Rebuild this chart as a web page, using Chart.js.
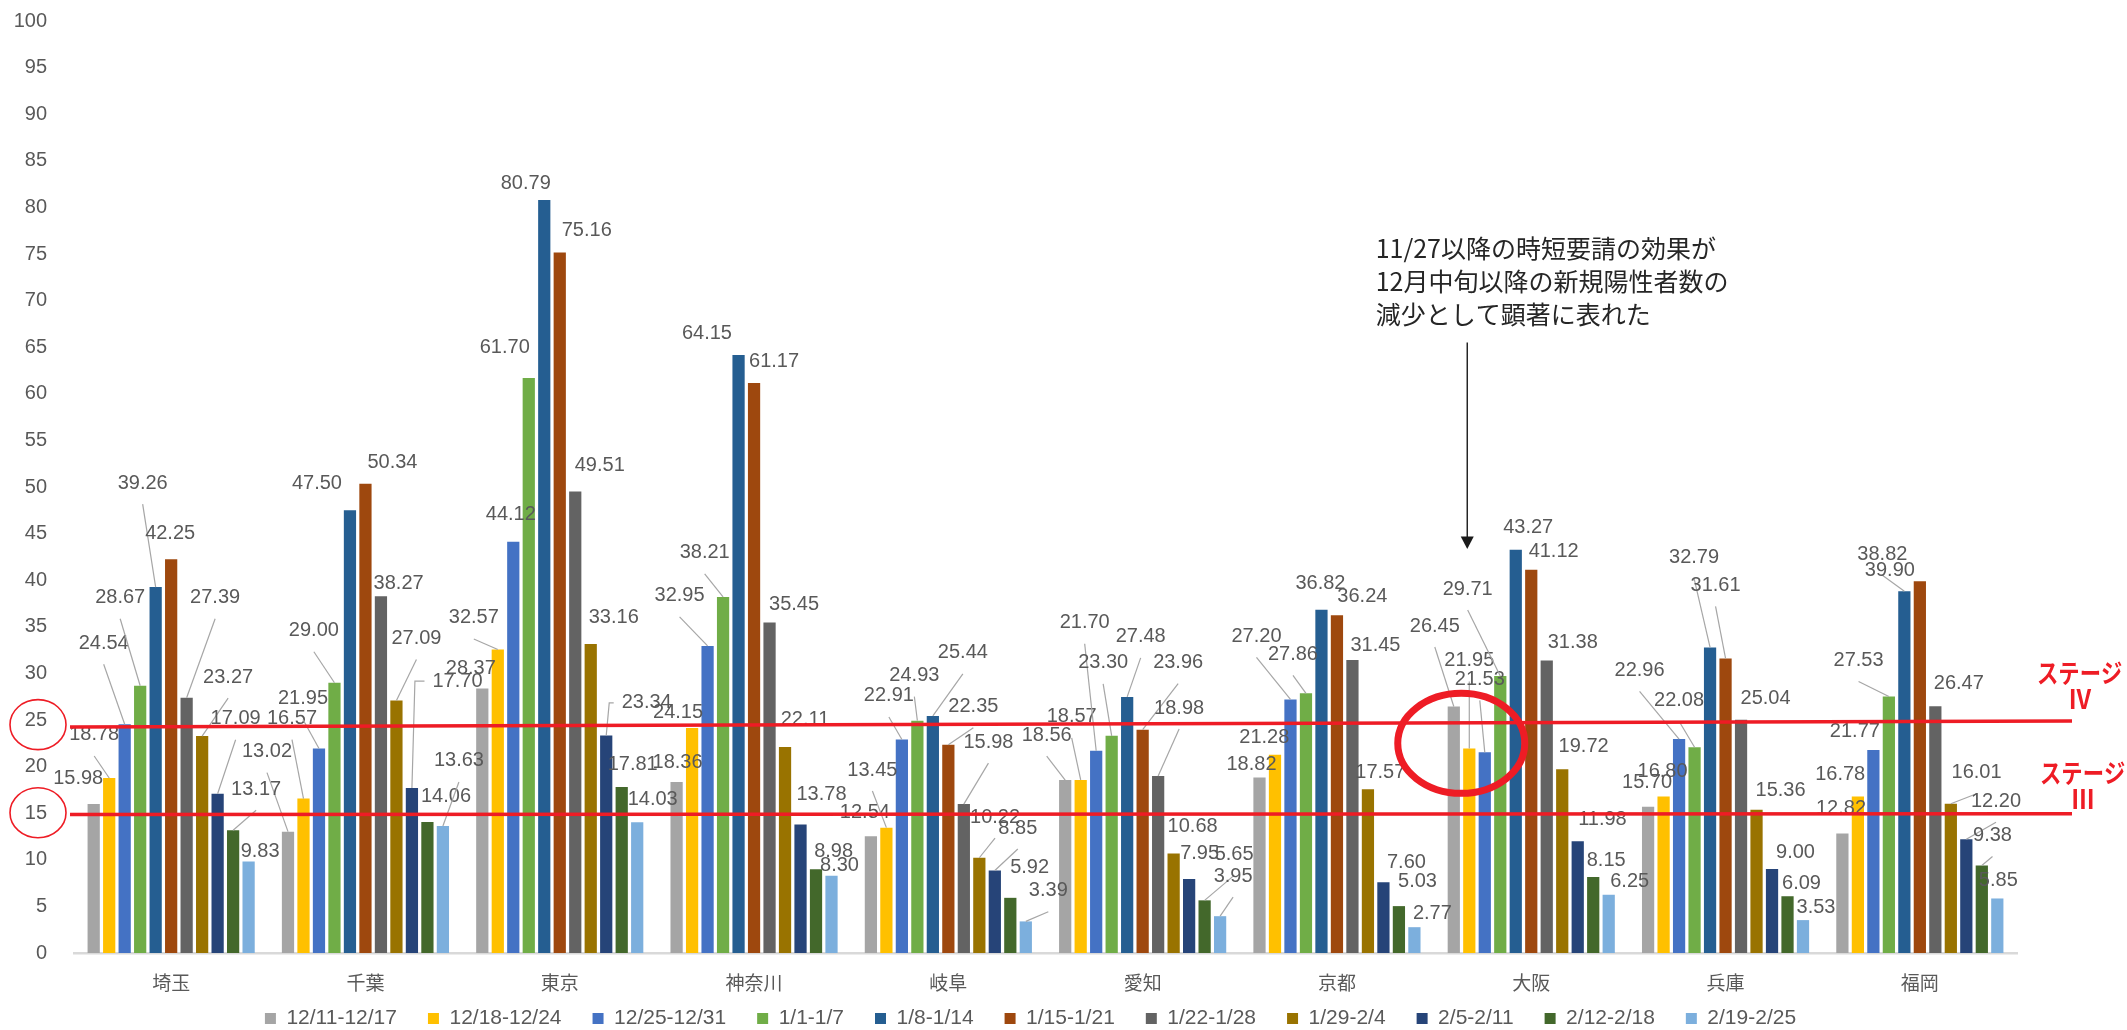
<!DOCTYPE html>
<html>
<head>
<meta charset="utf-8">
<script src="https://cdn.jsdelivr.net/npm/chart.js@4.4.1/dist/chart.umd.min.js"></script>
<style>
  html, body { margin: 0; padding: 0; background: #fff; }
  #wrap { width: 2127px; height: 1030px; }
</style>
</head>
<body>
<div id="wrap"><canvas id="chart" width="2127" height="1030"></canvas></div>
<script>
// 都道府県
const prefectures = ["埼玉", "千葉", "東京", "神奈川", "岐阜", "愛知", "京都", "大阪", "兵庫", "福岡"];

// 週ごとの系列名
const weeks = ["12/11-12/17", "12/18-12/24", "12/25-12/31", "1/1-1/7", "1/8-1/14", "1/15-1/21",
  "1/22-1/28", "1/29-2/4", "2/5-2/11", "2/12-2/18", "2/19-2/25"];

// 各週の値（都道府県順）
const w1211 = [15.98, 13.02, 28.37, 18.36, 12.54, 18.56, 18.82, 26.45, 15.70, 12.82];
const w1218 = [18.78, 16.57, 32.57, 24.15, 13.45, 18.57, 21.28, 21.95, 16.80, 16.78];
const w1225 = [24.54, 21.95, 44.12, 32.95, 22.91, 21.70, 27.20, 21.53, 22.96, 21.77];
const w0101 = [28.67, 29.00, 61.70, 38.21, 24.93, 23.30, 27.86, 29.71, 22.08, 27.53];
const w0108 = [39.26, 47.50, 80.79, 64.15, 25.44, 27.48, 36.82, 43.27, 32.79, 38.82];
const w0115 = [42.25, 50.34, 75.16, 61.17, 22.35, 23.96, 36.24, 41.12, 31.61, 39.90];
const w0122 = [27.39, 38.27, 49.51, 35.45, 15.98, 18.98, 31.45, 31.38, 25.04, 26.47];
const w0129 = [23.27, 27.09, 33.16, 22.11, 10.22, 10.68, 17.57, 19.72, 15.36, 16.01];
const w0205 = [17.09, 17.70, 23.34, 13.78, 8.85, 7.95, 7.60, 11.98, 9.00, 12.20];
const w0212 = [13.17, 14.06, 17.81, 8.98, 5.92, 5.65, 5.03, 8.15, 6.09, 9.38];
const w0219 = [9.83, 13.63, 14.03, 8.30, 3.39, 3.95, 2.77, 6.25, 3.53, 5.85];

// y軸の目盛
const yTicks = [0, 5, 10, 15, 20, 25, 30, 35, 40, 45, 50, 55, 60, 65, 70, 75, 80, 85, 90, 95, 100];

const seriesValues = [w1211, w1218, w1225, w0101, w0108, w0115, w0122, w0129, w0205, w0212, w0219];
const seriesColors = ["#A5A5A5", "#FFC000", "#4472C4", "#70AD47", "#255E91", "#9E480E",
  "#636363", "#997300", "#264478", "#43682B", "#7CAFDD"];

// データラベルの位置 [dx, dy, 引き出し線] 都道府県ごと・系列順
// 引き出し線: 0 なし, 1 直線, 2 折れ線
const labelPos = [
  [[-15.5,-26,0],[-15,-43,1],[-21,-81,1],[-20,-88,1],[-13,-104,1],[-1,-26,0],[28.5,-100,1],[26,-59,1],[18,-75,1],[23,-41,1],[11.5,-9.5,0]],
  [[-21,-80,1],[-11.5,-80,1],[-16,-50,1],[-20.6,-52,1],[-33,-27,0],[27,-21,0],[17.7,-13,0],[20,-62,1],[45.6,-107,2],[18.6,-25,0],[16,-65,1]],
  [[-11.5,-20,0],[-24,-31.5,1],[-2.5,-27,0],[-24,-30,0],[-18.5,-17,0],[27,-22.5,0],[24.5,-26.5,0],[23,-26,0],[40.5,-32.5,2],[11,-23,0],[15.5,-23,0]],
  [[1,-19,0],[-14,-15,0],[-28,-50,1],[-18.4,-44,1],[-31.6,-22,0],[20,-21,0],[24.5,-18.6,0],[20,-27,0],[21,-29.6,0],[17.6,-17.6,0],[8,-10,0]],
  [[-6,-24,0],[-14,-57.6,1],[-13,-43.5,1],[-3,-45,1],[30,-63,1],[25,-38,1],[24.6,-62,1],[15.7,-40.7,1],[23,-42.5,1],[19.3,-30,0],[22.5,-30.7,1]],
  [[-18.5,-45,1],[-9,-63,1],[-11.5,-128,1],[-8.5,-73,1],[13.5,-60,1],[35.5,-67,1],[21,-68,1],[19,-26.5,0],[10.5,-25,0],[29.5,-46,1],[13,-40,1]],
  [[-8,-13.6,0],[-10.7,-16.7,0],[-34,-63,1],[-13,-39,1],[-1,-26,0],[25.4,-18.6,0],[23,-14,0],[12.4,-16.5,0],[23,-19.5,0],[18.6,-25,0],[18,-14,0]],
  [[-19,-80.5,1],[0,-88,1],[-5,-73,1],[-32.6,-87,1],[12.4,-22,0],[22.4,-17.8,0],[26,-18.5,0],[21.4,-23,0],[24.7,-22,0],[13,-17,0],[21,-13.7,0]],
  [[-1,-24,0],[-1,-25,0],[-39.5,-68.6,1],[-15.5,-47,1],[-16,-90,1],[-10,-73,1],[24.5,-21,0],[24,-19,0],[23.5,-17,0],[14,-12.6,0],[13,-12.5,0]],
  [[-1.4,-25,0],[-17.7,-22,0],[-18.5,-19,0],[-30.3,-36,1],[-22,-37,1],[-30,-11,0],[23.5,-22.5,0],[25.7,-31,1],[29.7,-38,1],[10.7,-30,1],[1,-17.5,0]]
];

const note = ["11/27以降の時短要請の効果が", "12月中旬以降の新規陽性者数の", "減少として顕著に表れた"];
const RED = "#EE1C25";

function squeezed(ctx, text, x, y, sx) {
  ctx.save();
  ctx.translate(x, y);
  ctx.scale(sx, 1);
  ctx.fillText(text, 0, 0);
  ctx.restore();
}

function ellipse(ctx, cx, cy, rx, ry, w) {
  ctx.beginPath();
  ctx.ellipse(cx, cy, rx, ry, 0, 0, Math.PI * 2);
  ctx.lineWidth = w;
  ctx.strokeStyle = RED;
  ctx.stroke();
}

const overlay = {
  id: "overlay",
  afterDatasetsDraw(chart) {
    const { ctx, chartArea } = chart;
    const xs = chart.scales.x, ys = chart.scales.y;
    ctx.save();

    // データラベル
    ctx.font = "20px 'Liberation Sans', sans-serif";
    ctx.textAlign = "center";
    ctx.textBaseline = "middle";
    chart.data.datasets.forEach((ds, si) => {
      chart.getDatasetMeta(si).data.forEach((bar, ci) => {
        const p = labelPos[ci][si];
        const lx = bar.x + p[0], ly = bar.y + p[1];
        const text = ds.data[ci].toFixed(2);
        const hw = ctx.measureText(text).width / 2;
        ctx.strokeStyle = "#A6A6A6";
        ctx.lineWidth = 1.2;
        if (p[2] === 1) {
          ctx.beginPath();
          ctx.moveTo(lx, ly + 21);
          ctx.lineTo(bar.x, bar.y);
          ctx.stroke();
        } else if (p[2] === 2) {
          ctx.beginPath();
          ctx.moveTo(lx - hw - 8, ly);
          ctx.lineTo(bar.x + 3, ly);
          ctx.lineTo(bar.x, bar.y);
          ctx.stroke();
        }
        ctx.fillStyle = "#595959";
        ctx.fillText(text, lx, ly);
      });
    });

    // ステージの線
    ctx.strokeStyle = RED;
    ctx.lineWidth = 3.5;
    ctx.beginPath();
    ctx.moveTo(chartArea.left - 4, ys.getPixelForValue(24.25));
    ctx.lineTo(chartArea.right + 55, ys.getPixelForValue(24.9));
    ctx.stroke();
    ctx.beginPath();
    ctx.moveTo(chartArea.left - 4, ys.getPixelForValue(14.85));
    ctx.lineTo(chartArea.right + 55, ys.getPixelForValue(14.95));
    ctx.stroke();

    // 目盛の丸
    ellipse(ctx, chartArea.left - 36, ys.getPixelForValue(24.5), 28, 25, 1.6);
    ellipse(ctx, chartArea.left - 36, ys.getPixelForValue(15.05), 28, 25, 1.6);

    // 大阪の丸
    const osaka = xs.getPixelForValue(7);
    ellipse(ctx, osaka - 70, ys.getPixelForValue(22.5), 63.5, 50, 7);

    // ステージ表示
    ctx.fillStyle = RED;
    ctx.textAlign = "left";
    ctx.font = "bold 26px 'Noto Sans CJK JP', sans-serif";
    squeezed(ctx, "ステージ", chartArea.right + 20, ys.getPixelForValue(30.05), 0.82);
    squeezed(ctx, "ステージ", chartArea.right + 23, ys.getPixelForValue(19.35), 0.82);
    ctx.textAlign = "center";
    squeezed(ctx, "Ⅳ", chartArea.right + 63, ys.getPixelForValue(27.25), 0.9);
    squeezed(ctx, "Ⅲ", chartArea.right + 66, ys.getPixelForValue(16.5), 0.9);

    // 注記
    ctx.fillStyle = "#262626";
    ctx.textAlign = "left";
    ctx.font = "25px 'Noto Sans CJK JP', sans-serif";
    const ny = ys.getPixelForValue(75.6);
    note.forEach((t, i) => ctx.fillText(t, osaka - 155.6, ny + i * 33));

    // 矢印
    const ax = osaka - 64;
    const top = ys.getPixelForValue(65.5), tip = ys.getPixelForValue(43.35);
    ctx.strokeStyle = "#1A1A1A";
    ctx.lineWidth = 1.4;
    ctx.beginPath();
    ctx.moveTo(ax, top);
    ctx.lineTo(ax, tip - 10);
    ctx.stroke();
    ctx.fillStyle = "#1A1A1A";
    ctx.beginPath();
    ctx.moveTo(ax - 6.5, tip - 12.5);
    ctx.lineTo(ax + 6.5, tip - 12.5);
    ctx.lineTo(ax, tip);
    ctx.closePath();
    ctx.fill();

    ctx.restore();
  }
};

const ctx = document.getElementById("chart").getContext("2d");
const chart = new Chart(ctx, {
  type: "bar",
  data: {
    labels: prefectures,
    datasets: weeks.map((w, i) => ({
      label: w,
      data: seriesValues[i],
      backgroundColor: seriesColors[i],
      borderWidth: 0,
      categoryPercentage: 0.877,
      barPercentage: 0.79
    }))
  },
  options: {
    responsive: false,
    devicePixelRatio: 1,
    animation: false,
    layout: { padding: { left: 44, right: 110, top: 21, bottom: 0 } },
    plugins: {
      legend: {
        position: "bottom",
        maxHeight: 53,
        labels: {
          boxWidth: 11,
          boxHeight: 11,
          padding: 31,
          color: "#595959",
          font: { family: "'Liberation Sans', sans-serif", size: 21 }
        }
      },
      tooltip: { enabled: false }
    },
    scales: {
      x: {
        grid: { display: false, drawTicks: false },
        border: { color: "#D9D9D9", width: 2.5 },
        ticks: {
          color: "#595959",
          padding: 18,
          maxRotation: 0,
          font: { family: "'Noto Sans CJK JP', sans-serif", size: 19 }
        },
        afterFit: (s) => {
          s.height = 24;
          s._computeLabelArea = () => undefined;
        }
      },
      y: {
        min: 0,
        max: 100,
        grid: { display: false, drawTicks: false },
        border: { display: false },
        ticks: {
          color: "#595959",
          padding: 27,
          font: { family: "'Liberation Sans', sans-serif", size: 20 }
        },
        afterBuildTicks: (s) => { s.ticks = yTicks.map(v => ({ value: v })); },
        afterFit: (s) => {
          s.width = 30;
          s.paddingTop = 0;
          s.paddingBottom = 0;
          // 目盛ラベルが軸の幅からはみ出しても切らない
          s._computeLabelArea = () => undefined;
        }
      }
    }
  },
  plugins: [overlay]
});
</script>
</body>
</html>
